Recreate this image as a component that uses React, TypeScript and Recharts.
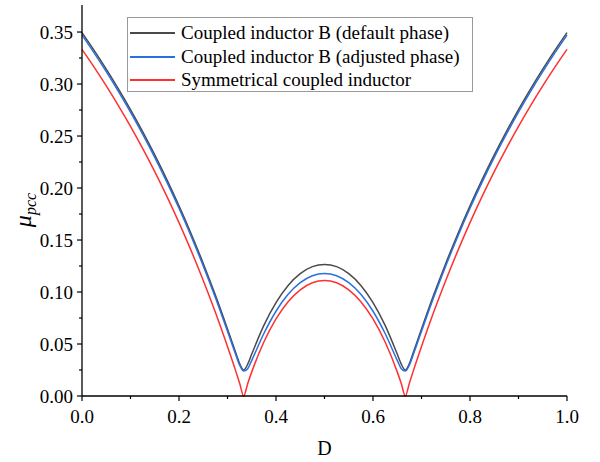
import React from 'react';
import { Line, LineChart, XAxis, YAxis } from 'recharts';

// duty cycle samples (extra points around the 1/3 and 2/3 cusps)
const dutyCycle = [
  0, 0.025, 0.05, 0.075, 0.1, 0.125, 0.15, 0.175, 0.2, 0.225, 0.25, 0.275, 0.3, 0.3167, 0.325, 0.3333,
  0.3417, 0.35, 0.375, 0.4, 0.425, 0.45, 0.475, 0.5, 0.525, 0.55, 0.575, 0.6, 0.625, 0.65, 0.6583,
  0.6667, 0.675, 0.6833, 0.7, 0.725, 0.75, 0.775, 0.8, 0.825, 0.85, 0.875, 0.9, 0.925, 0.95, 0.975, 1,
];

const defaultPhase = [
  0.3494, 0.3323, 0.3143, 0.2954, 0.2755, 0.2543, 0.2319, 0.2081, 0.1829, 0.1561, 0.1275, 0.097, 0.0644,
  0.042, 0.0312, 0.025, 0.0306, 0.0403, 0.0679, 0.0898, 0.1063, 0.1176, 0.1244, 0.1265, 0.1244, 0.1176,
  0.1063, 0.0898, 0.0679, 0.0403, 0.0306, 0.025, 0.0312, 0.042, 0.0644, 0.097, 0.1275, 0.1561, 0.1829,
  0.2081, 0.2319, 0.2543, 0.2755, 0.2954, 0.3143, 0.3323, 0.3494,
];

const adjustedPhase = [
  0.347, 0.3299, 0.3119, 0.293, 0.273, 0.2518, 0.2295, 0.2057, 0.1805, 0.1537, 0.1251, 0.0947, 0.0622,
  0.0401, 0.0297, 0.024, 0.0263, 0.0343, 0.0601, 0.0815, 0.0978, 0.109, 0.1157, 0.1179, 0.1157, 0.109,
  0.0978, 0.0815, 0.0601, 0.0343, 0.0263, 0.024, 0.0297, 0.0401, 0.0622, 0.0947, 0.1251, 0.1537, 0.1805,
  0.2057, 0.2295, 0.2518, 0.273, 0.293, 0.3119, 0.3299, 0.347,
];

const symmetrical = [
  0.3333, 0.3162, 0.2982, 0.2793, 0.2593, 0.2381, 0.2157, 0.1919, 0.1667, 0.1398, 0.1111, 0.0805, 0.0476,
  0.0244, 0.0123, 0, 0.012, 0.0232, 0.0519, 0.0741, 0.0907, 0.1021, 0.1089, 0.1111, 0.1089, 0.1021,
  0.0907, 0.0741, 0.0519, 0.0232, 0.012, 0, 0.0123, 0.0244, 0.0476, 0.0805, 0.1111, 0.1398, 0.1667,
  0.1919, 0.2157, 0.2381, 0.2593, 0.2793, 0.2982, 0.3162, 0.3333,
];

const xTicks = [0, 0.1, 0.2, 0.3, 0.4, 0.5, 0.6, 0.7, 0.8, 0.9, 1];
const yTicks = [0, 0.025, 0.05, 0.075, 0.1, 0.125, 0.15, 0.175, 0.2, 0.225, 0.25, 0.275, 0.3, 0.325, 0.35];

const series = [
  { key: 'defaultPhase', name: 'Coupled inductor B (default phase)', color: '#4a4a4a' },
  { key: 'adjustedPhase', name: 'Coupled inductor B (adjusted phase)', color: '#2a6fe0' },
  { key: 'symmetrical', name: 'Symmetrical coupled inductor', color: '#ff3030' },
];

const data = dutyCycle.map((d, i) => ({
  d,
  defaultPhase: defaultPhase[i],
  adjustedPhase: adjustedPhase[i],
  symmetrical: symmetrical[i],
}));

const FONT =
  "'Times New Roman', 'Liberation Serif', Tinos, 'Nimbus Roman', FreeSerif, 'DejaVu Serif', 'Noto Serif', serif";
const isMajorX = (v: number) => Math.round(v * 10) % 2 === 0;
const isMajorY = (v: number) => Math.round(v * 40) % 2 === 0;

const BottomTick = ({ x, y, payload }: any) => {
  const major = isMajorX(payload.value);
  return (
    <g>
      <line x1={x} y1={y} x2={x} y2={y + (major ? 5 : 3)} stroke="#000" strokeWidth={1.2} />
      {major && (
        <text x={x} y={y + 27} textAnchor="middle" style={{ fontFamily: FONT }} fontSize={19} fill="#000">
          {payload.value.toFixed(1)}
        </text>
      )}
    </g>
  );
};

const TopTick = ({ x, y, payload }: any) => (
  <line x1={x} y1={y} x2={x} y2={y + (isMajorX(payload.value) ? 5 : 3)} stroke="#000" strokeWidth={1.2} />
);

const LeftTick = ({ x, y, payload }: any) => {
  const major = isMajorY(payload.value);
  return (
    <g>
      <line x1={x} y1={y} x2={x - (major ? 5 : 3)} y2={y} stroke="#000" strokeWidth={1.2} />
      {major && (
        <text x={x - 9} y={y} dy="0.35em" textAnchor="end" style={{ fontFamily: FONT }} fontSize={19} fill="#000">
          {payload.value.toFixed(2)}
        </text>
      )}
    </g>
  );
};

const RightTick = ({ x, y, payload }: any) => (
  <line x1={x} y1={y} x2={x - (isMajorY(payload.value) ? 5 : 3)} y2={y} stroke="#000" strokeWidth={1.2} />
);

const YLabel = ({ viewBox }: any) => {
  const cx = viewBox.x + 25;
  const cy = 210;
  return (
    <text
      x={cx}
      y={cy}
      transform={`rotate(-90, ${cx}, ${cy})`}
      textAnchor="middle"
      dy="0.35em"
      style={{ fontFamily: FONT, fontStyle: 'italic' }}
      fill="#000"
    >
      <tspan fontSize={24}>μ</tspan>
      <tspan fontSize={16} dy={5}>pcc</tspan>
    </text>
  );
};

const XLabel = ({ viewBox }: any) => (
  <text
    x={viewBox.x + viewBox.width / 2}
    y={455}
    textAnchor="middle"
    style={{ fontFamily: FONT }}
    fontSize={20}
    fill="#000"
  >
    D
  </text>
);

export default function App() {
  return (
    <div style={{ position: 'absolute', left: 0, top: 0, width: 600, height: 462, background: '#fff' }}>
      <LineChart width={600} height={462} data={data} margin={{ top: 5, right: 33, left: 0, bottom: 0 }}>
        <XAxis
          dataKey="d"
          type="number"
          domain={[0, 1]}
          ticks={xTicks}
          interval={0}
          height={66}
          tickSize={0}
          tickMargin={0}
          tick={<BottomTick />}
          tickLine={false}
          axisLine={{ stroke: '#000', strokeWidth: 1.3 }}
          label={{ content: <XLabel /> }}
        />
        <XAxis
          xAxisId="top"
          orientation="top"
          dataKey="d"
          type="number"
          domain={[0, 1]}
          ticks={xTicks}
          interval={0}
          height={0}
          tickSize={0}
          tickMargin={0}
          tick={<TopTick />}
          tickLine={false}
          axisLine={{ stroke: '#000', strokeWidth: 1.3 }}
        />
        <YAxis
          type="number"
          domain={[0, 0.376]}
          ticks={yTicks}
          interval={0}
          width={82}
          tickSize={0}
          tickMargin={0}
          tick={<LeftTick />}
          tickLine={false}
          axisLine={{ stroke: '#000', strokeWidth: 1.3 }}
          label={{ content: <YLabel /> }}
        />
        <YAxis
          yAxisId="right"
          orientation="right"
          type="number"
          domain={[0, 0.376]}
          ticks={yTicks}
          interval={0}
          width={0}
          tickSize={0}
          tickMargin={0}
          tick={<RightTick />}
          tickLine={false}
          axisLine={{ stroke: '#000', strokeWidth: 1.3 }}
        />
        {series.map((s) => (
          <Line
            key={s.key}
            dataKey={s.key}
            name={s.name}
            type="monotone"
            stroke={s.color}
            strokeWidth={1.5}
            dot={false}
            isAnimationActive={false}
          />
        ))}
      </LineChart>
      <div
        style={{
          position: 'absolute',
          left: 127,
          top: 17,
          width: 344,
          height: 73,
          border: '1px solid #999',
          background: '#fff',
          fontFamily: FONT,
          fontSize: 19,
          color: '#000',
        }}
      >
        {series.map((s, i) => (
          <div
            key={s.key}
            style={{ position: 'absolute', left: 2, top: 3 + i * 23.5, height: 24, display: 'flex', alignItems: 'center' }}
          >
            <span style={{ display: 'inline-block', width: 45, height: 2, background: s.color, marginRight: 6 }} />
            <span style={{ whiteSpace: 'nowrap' }}>{s.name}</span>
          </div>
        ))}
      </div>
    </div>
  );
}
